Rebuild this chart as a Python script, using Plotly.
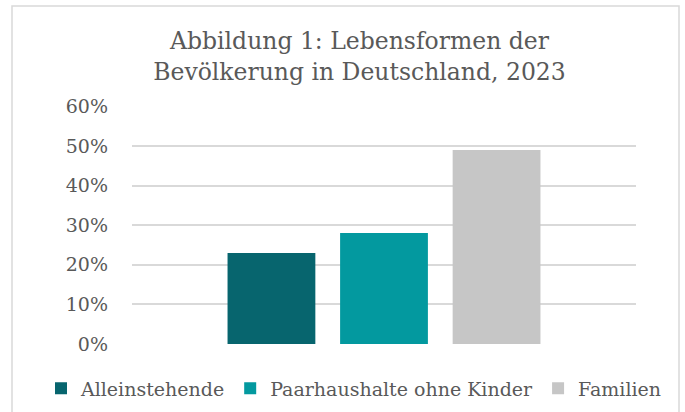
import plotly.graph_objects as go

# Data
categories = ["2023"]
series_names = ["Alleinstehende", "Paarhaushalte ohne Kinder", "Familien"]
series_values = [[0.23], [0.28], [0.49]]
series_colors = ["#07656E", "#03999F", "#C6C6C6"]
y_tickvals = [0, 0.1, 0.2, 0.3, 0.4, 0.5, 0.6]

FONT = "DejaVu Serif"
TEXT = "#595959"
GRID = "#D9D9D9"

W, H = 685, 412
L, R, T, B = 132, 49, 106, 68
pw, ph = W - L - R, H - T - B

fig = go.Figure()
for name, vals, col in zip(series_names, series_values, series_colors):
    fig.add_trace(go.Bar(x=categories, y=vals, name=name, marker_color=col,
                         marker_line_width=0))

def px_x(p):
    return (p - L) / pw

def px_y(p):
    return (H - B - p) / ph

fig.update_layout(
    width=W, height=H,
    margin=dict(l=L, r=R, t=T, b=B, pad=0, autoexpand=False),
    paper_bgcolor="white", plot_bgcolor="white",
    font=dict(family=FONT, color=TEXT, size=19),
    barmode="group", bargap=0.33, bargroupgap=0.22,
    title=dict(text="Abbildung 1: Lebensformen der<br>Bevölkerung in Deutschland, 2023",
               font=dict(family=FONT, size=23.5, color=TEXT),
               x=359.5 / W, xanchor="center", xref="container",
               y=1 - 49 / H, yanchor="top", yref="container"),
    showlegend=True,
    legend=dict(orientation="h", xref="paper", yref="paper",
                x=px_x(41), xanchor="left",
                y=px_y(388.5), yanchor="middle",
                font=dict(family=FONT, size=19, color=TEXT),
                bgcolor="rgba(0,0,0,0)", itemclick=False),
    xaxis=dict(showticklabels=False, showgrid=False, zeroline=False,
               showline=False, ticks=""),
    yaxis=dict(range=[0, 0.6008], tickvals=y_tickvals, tickformat=".0%",
               showgrid=True, gridcolor=GRID, gridwidth=1.5,
               zeroline=False, showline=False, ticks="",
               ticklabelstandoff=23,
               tickfont=dict(family=FONT, size=19, color=TEXT)),
    shapes=[dict(type="rect", xref="paper", yref="paper",
                 x0=px_x(12), x1=px_x(679), y0=px_y(425), y1=px_y(6),
                 line=dict(color=GRID, width=1.5), fillcolor="rgba(0,0,0,0)",
                 layer="below")],
)

fig.write_html("out.html",
               config={"displayModeBar": False},
               post_script="document.body.style.margin='0';")
